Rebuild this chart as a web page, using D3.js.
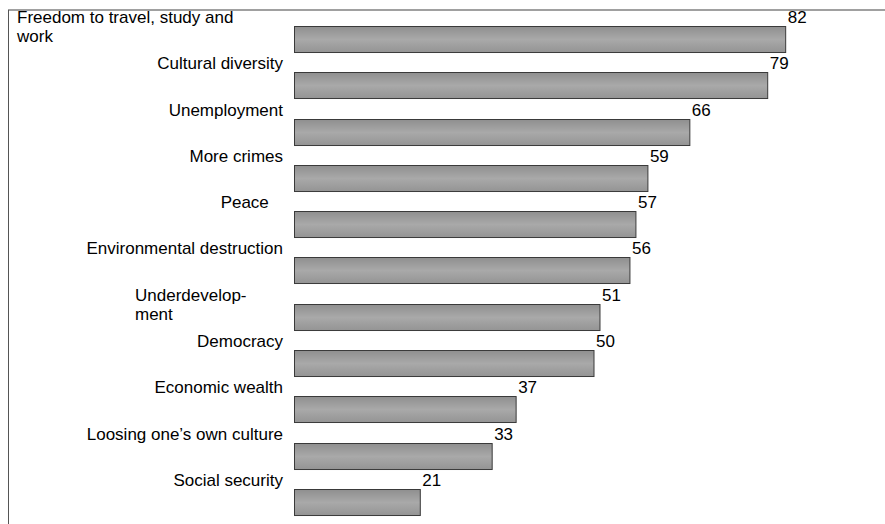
<!DOCTYPE html>
<html>
<head>
<meta charset="utf-8">
<script src="https://cdn.jsdelivr.net/npm/d3@7"></script>
<style>
  html, body { margin: 0; padding: 0; background: #fff; }
  svg { display: block; }
  text { font-family: "Liberation Sans", Arial, sans-serif; font-size: 17px; fill: #000; }
</style>
</head>
<body>
<svg id="chart" width="885" height="524"></svg>
<script>
const categories = [
  "Freedom to travel, study and\nwork",
  "Cultural diversity",
  "Unemployment",
  "More crimes",
  "Peace",
  "Environmental destruction",
  "Underdevelop-\nment",
  "Democracy",
  "Economic wealth",
  "Loosing one\u2019s own culture",
  "Social security"
];
const values = [82, 79, 66, 59, 57, 56, 51, 50, 37, 33, 21];

const svg = d3.select("#chart");
const W = 885, H = 524;

// gradient for bars
const defs = svg.append("defs");
const grad = defs.append("linearGradient").attr("id", "barGrad")
  .attr("x1", 0).attr("y1", 0).attr("x2", 0).attr("y2", 1);
grad.append("stop").attr("offset", "0%").attr("stop-color", "#8f8f8f");
grad.append("stop").attr("offset", "50%").attr("stop-color", "#a9a9a9");
grad.append("stop").attr("offset", "100%").attr("stop-color", "#949494");

// frame lines
svg.append("line").attr("x1", 8).attr("x2", W).attr("y1", 10).attr("y2", 10)
  .attr("stroke", "#808080").attr("stroke-width", 1.5);
svg.append("line").attr("x1", 8.5).attr("x2", 8.5).attr("y1", 10).attr("y2", H)
  .attr("stroke", "#555").attr("stroke-width", 1);

const x = d3.scaleLinear().domain([0, 100]).range([294, 893]);
const y = d3.scaleBand().domain(d3.range(categories.length))
  .range([26, 515]).paddingInner(0.438).paddingOuter(0);

const data = categories.map((c, i) => ({ c, v: values[i], i }));

// bars
svg.append("g").selectAll("rect").data(data).join("rect")
  .attr("x", x(0) + 0.5)
  .attr("y", d => Math.round(y(d.i)) + 0.5)
  .attr("width", d => x(d.v) - x(0))
  .attr("height", y.bandwidth())
  .attr("fill", "url(#barGrad)")
  .attr("stroke", "#3a3a3a")
  .attr("stroke-width", 1);

// value labels
svg.append("g").selectAll("text").data(data).join("text")
  .attr("x", d => x(d.v) + 2.5)
  .attr("y", d => y(d.i) - 3)
  .text(d => d.v);

// category labels
const labelRight = 283;
const wrapLeft = { 0: 17, 6: 135 };
const lineH = 19;
const labelG = svg.append("g");
data.forEach(d => {
  const lines = d.c.split("\n");
  const base = y(d.i) - 3;
  if (lines.length > 1) {
    const t = labelG.append("text").attr("text-anchor", "start");
    lines.forEach((ln, k) => {
      t.append("tspan").attr("x", wrapLeft[d.i]).attr("y", base + k * lineH).text(ln);
    });
  } else {
    const txt = d.c === "Peace" ? "Peace\u00a0\u00a0\u00a0" : d.c;
    labelG.append("text").attr("text-anchor", "end")
      .attr("x", labelRight).attr("y", base).text(txt);
  }
});
</script>
</body>
</html>
